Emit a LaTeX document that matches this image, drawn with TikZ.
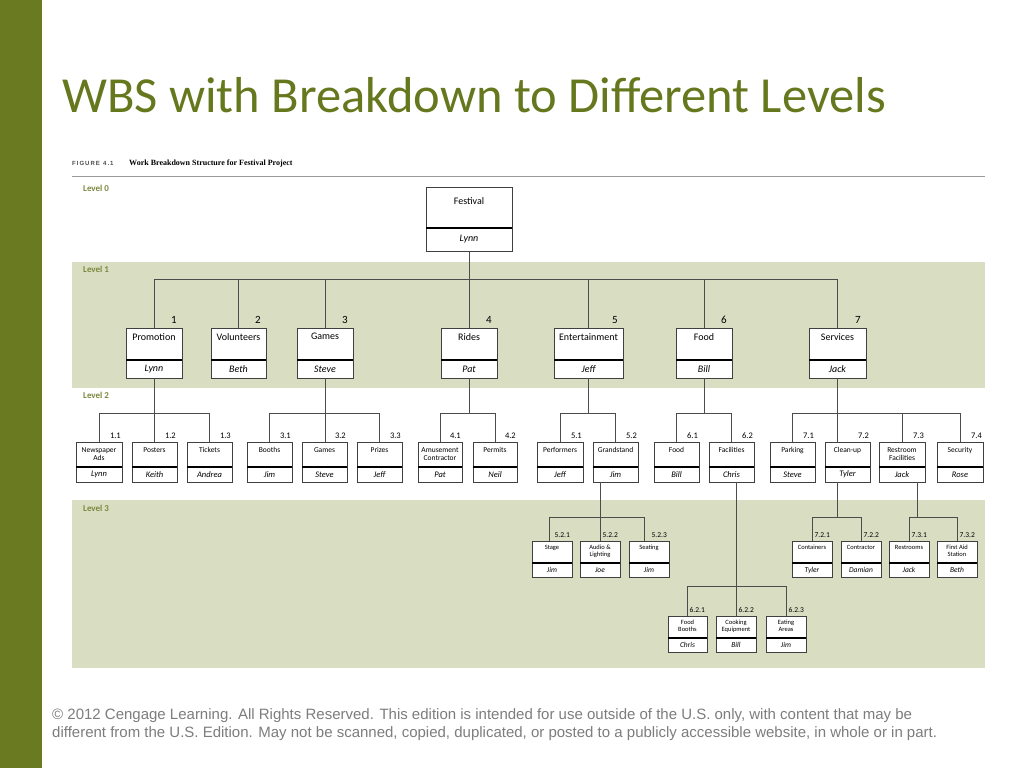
\documentclass[tikz,border=0pt]{standalone}
\usepackage{fontspec}
\setmainfont{Carlito}
\newfontfamily\arialfont{Liberation Sans}
\newfontfamily\timesfont{Liberation Serif}
\definecolor{barolive}{RGB}{106,122,32}
\definecolor{titleolive}{RGB}{102,120,30}
\definecolor{bandgreen}{RGB}{217,221,194}
\definecolor{levelolive}{RGB}{125,135,62}
\definecolor{footgray}{RGB}{125,125,125}
\tikzset{
  wbsbox/.style={draw=black!75, line width=0.8pt, fill=white, inner sep=0pt, outer sep=0pt},
  divline/.style={line width=2pt},
  conn/.style={draw=black!70, line width=0.8pt},
  wbstitle/.style={anchor=north, inner sep=0pt, align=center},
  wbsname/.style={inner sep=0pt, font=\itshape},
  wbsnum/.style={anchor=base east, inner sep=0pt},
  levellbl/.style={anchor=west, inner sep=0pt, text=levelolive, font=\fontsize{9}{10}\selectfont\bfseries}
}
% box: name, left, right, top, divider, bottom, title, person, number
\newcommand{\wbsbox}[9]{%
  \node[wbsbox, minimum width={(#3-#2)*1pt}, minimum height={(#6-#4)*1pt}] (#1) at ({(#2+#3)/2},{(#4+#6)/2}) {};
  \draw[divline] (#1.west |- 0,#5) -- (#1.east |- 0,#5);
  \node[wbstitle] at ({(#2+#3)/2},#4) {#7};
  \node[wbsname] at ({(#2+#3)/2},{(#5+#6)/2}) {#8};
  \node[wbsnum] at (#1.north east) {#9};
}
\begin{document}
\begin{tikzpicture}[x=1pt, y=-1pt]
  \useasboundingbox (0,0) rectangle (1024,768);
  \fill[white] (0,0) rectangle (1024,768);
  % left bar and title
  \fill[barolive] (0,0) rectangle (42,768);
  \node[anchor=base west, inner sep=0pt, text=titleolive, font=\fontsize{50.5}{60}\selectfont] (title) at (62,112) {WBS with Breakdown to Different Levels};

  % figure caption
  \node[anchor=base west, inner sep=0pt, text=black!70, font=\arialfont\fontsize{6}{7}\selectfont\bfseries] (fig) at (72,165) {F\,I\,G\,U\,R\,E\ \ 4\,.\,1};
  \node[anchor=base west, inner sep=0pt, font=\timesfont\fontsize{8}{9}\selectfont\bfseries] (figtxt) at (129,165) {Work Breakdown Structure for Festival Project};
  \draw[black!40, line width=0.6pt] (72,176) -- (985,176);

  % level bands
  \fill[bandgreen] (72,262) rectangle (985,388);
  \fill[bandgreen] (72,500) rectangle (985,668);
  \node[levellbl] (lv0) at (83,188) {Level 0};
  \node[levellbl] (lv1) at (83,269) {Level 1};
  \node[levellbl] (lv2) at (83,395) {Level 2};
  \node[levellbl] (lv3) at (83,508) {Level 3};

  % level 0
  \begin{scope}[wbstitle/.append style={yshift=-10pt, font=\fontsize{10}{12}\selectfont},
                wbsname/.append style={font=\fontsize{10}{12}\selectfont\itshape}]
    \wbsbox{festival}{426}{512}{187}{228}{251}{Festival}{Lynn}{}
  \end{scope}

  % level 1
  \begin{scope}[wbstitle/.append style={yshift=-5pt, font=\fontsize{10}{12}\selectfont},
                wbsname/.append style={font=\fontsize{10}{12}\selectfont\itshape},
                wbsnum/.append style={xshift=-5pt, yshift=5pt, font=\fontsize{11}{12}\selectfont}]
    \wbsbox{promotion}{126}{182}{328}{360}{378}{Promotion}{Lynn}{1}
    \wbsbox{volunteers}{211}{266}{328}{360}{378}{Volunteers}{Beth}{2}
    \wbsbox{games}{297}{353}{328}{360}{378}{Games}{Steve}{3}
    \wbsbox{rides}{441}{497}{328}{360}{378}{Rides}{Pat}{4}
    \wbsbox{entertainment}{554}{623}{328}{360}{378}{Entertainment}{Jeff}{5}
    \wbsbox{food}{676}{732}{328}{360}{378}{Food}{Bill}{6}
    \wbsbox{services}{809}{866}{328}{360}{378}{Services}{Jack}{7}
  \end{scope}

  % level 2
  \begin{scope}[wbstitle/.append style={yshift=-5pt, font=\fontsize{7.5}{8.5}\selectfont},
                wbsname/.append style={font=\fontsize{8.5}{10}\selectfont\itshape},
                wbsnum/.append style={xshift=-1pt, yshift=4pt, font=\fontsize{8.5}{10}\selectfont}]
    \wbsbox{newsads}{76}{122}{442}{467}{482}{Newspaper\\Ads}{Lynn}{1.1}
    \wbsbox{posters}{132}{177}{442}{467}{482}{Posters}{Keith}{1.2}
    \wbsbox{tickets}{187}{232}{442}{467}{482}{Tickets}{Andrea}{1.3}
    \wbsbox{booths}{247}{292}{442}{467}{482}{Booths}{Jim}{3.1}
    \wbsbox{gamesb}{302}{347}{442}{467}{482}{Games}{Steve}{3.2}
    \wbsbox{prizes}{357}{402}{442}{467}{482}{Prizes}{Jeff}{3.3}
    \wbsbox{amusement}{418}{462}{442}{467}{482}{Amusement\\Contractor}{Pat}{4.1}
    \wbsbox{permits}{473}{517}{442}{467}{482}{Permits}{Neil}{4.2}
    \wbsbox{performers}{537}{583}{442}{467}{482}{Performers}{Jeff}{5.1}
    \wbsbox{grandstand}{593}{638}{442}{467}{482}{Grandstand}{Jim}{5.2}
    \wbsbox{foodb}{654}{699}{442}{467}{482}{Food}{Bill}{6.1}
    \wbsbox{facilities}{709}{754}{442}{467}{482}{Facilities}{Chris}{6.2}
    \wbsbox{parking}{770}{815}{442}{467}{482}{Parking}{Steve}{7.1}
    \wbsbox{cleanup}{825}{870}{442}{467}{482}{Clean-up}{Tyler}{7.2}
    \wbsbox{restroom}{879}{925}{442}{467}{482}{Restroom\\Facilities}{Jack}{7.3}
    \wbsbox{security}{937}{983}{442}{467}{482}{Security}{Rose}{7.4}
  \end{scope}

  % level 3
  \begin{scope}[wbstitle/.append style={yshift=-4pt, font=\fontsize{6.5}{7}\selectfont},
                wbsname/.append style={font=\fontsize{7.5}{9}\selectfont\itshape},
                wbsnum/.append style={xshift=-2pt, yshift=4pt, font=\fontsize{7.5}{9}\selectfont}]
    \wbsbox{stage}{532}{572}{541}{563}{577}{Stage}{Jim}{5.2.1}
    \wbsbox{audio}{580}{620}{541}{563}{577}{Audio \&\\Lighting}{Joe}{5.2.2}
    \wbsbox{seating}{629}{669}{541}{563}{577}{Seating}{Jim}{5.2.3}
    \wbsbox{containers}{792}{832}{541}{563}{577}{Containers}{Tyler}{7.2.1}
    \wbsbox{contractor}{841}{881}{541}{563}{577}{Contractor}{Damian}{7.2.2}
    \wbsbox{restrooms}{889}{929}{541}{563}{577}{Restrooms}{Jack}{7.3.1}
    \wbsbox{firstaid}{937}{977}{541}{563}{577}{First Aid\\Station}{Beth}{7.3.2}
    \wbsbox{foodbooths}{668}{707}{616}{638}{652}{Food\\Booths}{Chris}{6.2.1}
    \wbsbox{cooking}{716}{756}{616}{638}{652}{Cooking\\Equipment}{Bill}{6.2.2}
    \wbsbox{eating}{766}{806}{616}{638}{652}{Eating\\Areas}{Jim}{6.2.3}
  \end{scope}

  % connectors level 0 -> 1
  \coordinate (bar1) at (0,279);
  \draw[conn] (festival.south) -- (festival.south |- bar1);
  \draw[conn] (promotion.north) |- (services.north |- bar1) -- (services.north);
  \foreach \n in {volunteers,games,rides,entertainment,food}
    \draw[conn] (\n.north) -- (\n.north |- bar1);

  % connectors level 1 -> 2
  \coordinate (bar2) at (0,413);
  \draw[conn] (promotion.south) -- (promotion.south |- posters.north);
  \draw[conn] (newsads.north) |- (tickets.north |- bar2) -- (tickets.north);
  \draw[conn] (games.south) -- (games.south |- gamesb.north);
  \draw[conn] (booths.north) |- (prizes.north |- bar2) -- (prizes.north);
  \draw[conn] (rides.south) -- (rides.south |- bar2);
  \draw[conn] (amusement.north) |- (permits.north |- bar2) -- (permits.north);
  \draw[conn] (entertainment.south) -- (entertainment.south |- bar2);
  \draw[conn] (performers.north) |- (grandstand.north |- bar2) -- (grandstand.north);
  \draw[conn] (food.south) -- (food.south |- bar2);
  \draw[conn] (foodb.north) |- (facilities.north |- bar2) -- (facilities.north);
  \draw[conn] (services.south) -- (services.south |- cleanup.north);
  \draw[conn] (parking.north) |- (security.north |- bar2) -- (security.north);
  \draw[conn] (restroom.north) -- (restroom.north |- bar2);

  % connectors level 2 -> 3
  \coordinate (bar3) at (0,517);
  \coordinate (bar4) at (0,586);
  \draw[conn] (audio.north |- grandstand.south) -- (audio.north);
  \draw[conn] ([xshift=-3pt]stage.north) |- ([xshift=-5pt]seating.north |- bar3) -- ([xshift=-5pt]seating.north);
  \draw[conn] (services.south |- cleanup.south) -- (services.south |- bar3);
  \draw[conn] (containers.north) |- (contractor.north |- bar3) -- (contractor.north);
  \draw[conn] ([xshift=15pt]restroom.south) -- ([xshift=15pt]restroom.south |- bar3);
  \draw[conn] (restrooms.north) |- (firstaid.north |- bar3) -- (firstaid.north);
  \draw[conn] (cooking.north |- facilities.south) -- (cooking.north);
  \draw[conn] (foodbooths.north) |- (eating.north |- bar4) -- (eating.north);

  % footer
  \node[anchor=base west, inner sep=0pt, align=left, text=footgray, font=\arialfont\fontsize{15}{18}\selectfont] (foot) at (52,737)
    {\textcopyright{} 2012 Cengage Learning. All Rights Reserved. This edition is intended for use outside of the U.S. only, with content that may be\\
     different from the U.S. Edition. May not be scanned, copied, duplicated, or posted to a publicly accessible website, in whole or in part.};
\end{tikzpicture}
\end{document}
